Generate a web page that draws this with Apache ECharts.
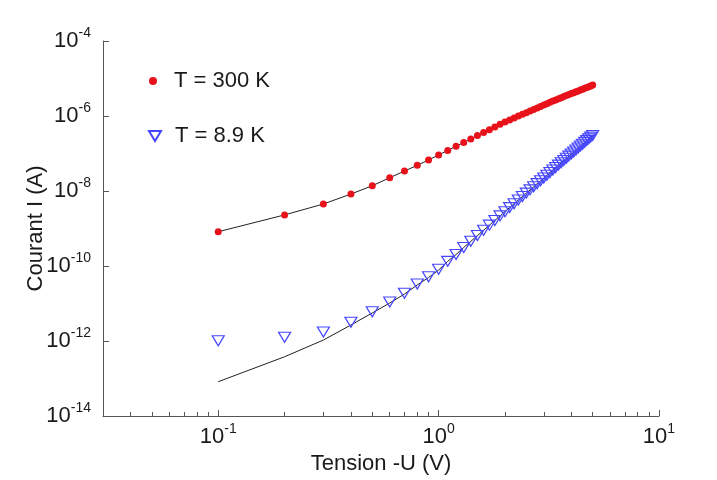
<!DOCTYPE html>
<html>
<head>
<meta charset="utf-8">
<script src="https://cdn.jsdelivr.net/npm/echarts@6/dist/echarts.min.js"></script>
<style>
  html, body { margin: 0; padding: 0; background: #fff; }
  #chart { width: 717px; height: 480px; }
</style>
</head>
<body>
<div id="chart"></div>
<script>
// Applied voltage -U (V)
const volt = [0.1, 0.2, 0.3, 0.4, 0.5, 0.6, 0.7, 0.8, 0.9, 1.0,
              1.1, 1.2, 1.3, 1.4, 1.5, 1.6, 1.7, 1.8, 1.9, 2.0,
              2.1, 2.2, 2.3, 2.4, 2.5, 2.6, 2.7, 2.8, 2.9, 3.0,
              3.1, 3.2, 3.3, 3.4, 3.5, 3.6, 3.7, 3.8, 3.9, 4.0,
              4.1, 4.2, 4.3, 4.4, 4.5, 4.6, 4.7, 4.8, 4.9, 5.0];

// Measured current at T = 300 K (A)
const i300 = [8.2e-10, 2.3e-9, 4.5e-9, 8.3e-9, 1.38e-8, 2.26e-8, 3.41e-8, 4.84e-8, 6.71e-8, 9.12e-8,
              1.21e-7, 1.56e-7, 1.96e-7, 2.45e-7, 3.0e-7, 3.63e-7, 4.31e-7, 5.12e-7, 6.01e-7, 6.97e-7,
              7.87e-7, 8.9e-7, 9.93e-7, 1.11e-6, 1.23e-6, 1.36e-6, 1.50e-6, 1.64e-6, 1.80e-6, 1.96e-6,
              2.13e-6, 2.32e-6, 2.51e-6, 2.69e-6, 2.89e-6, 3.08e-6, 3.29e-6, 3.50e-6, 3.72e-6, 3.96e-6,
              4.18e-6, 4.42e-6, 4.67e-6, 4.93e-6, 5.19e-6, 5.48e-6, 5.75e-6, 6.04e-6, 6.35e-6, 6.75e-6];

// Model curve at T = 300 K (A)
const fit300 = [8.2e-10, 2.3e-9, 4.5e-9, 8.3e-9, 1.38e-8, 2.26e-8, 3.41e-8, 4.84e-8, 6.71e-8, 9.12e-8,
              1.21e-7, 1.56e-7, 1.96e-7, 2.45e-7, 3.0e-7, 3.63e-7, 4.31e-7, 5.12e-7, 6.01e-7, 6.97e-7,
              7.87e-7, 8.9e-7, 9.93e-7, 1.11e-6, 1.23e-6, 1.36e-6, 1.50e-6, 1.64e-6, 1.80e-6, 1.96e-6,
              2.13e-6, 2.32e-6, 2.51e-6, 2.69e-6, 2.89e-6, 3.08e-6, 3.29e-6, 3.50e-6, 3.72e-6, 3.96e-6,
              4.18e-6, 4.42e-6, 4.67e-6, 4.93e-6, 5.19e-6, 5.48e-6, 5.75e-6, 6.04e-6, 6.35e-6, 6.75e-6];

// Measured current at T = 8.9 K (A)
const i89 = [1.02e-12, 1.26e-12, 1.74e-12, 3.15e-12, 6.04e-12, 1.10e-11, 1.87e-11, 3.31e-11, 5.19e-11, 8.17e-11,
             1.33e-10, 2.03e-10, 3.12e-10, 4.55e-10, 6.48e-10, 9.0e-10, 1.23e-9, 1.64e-9, 2.17e-9, 2.81e-9,
             3.61e-9, 4.58e-9, 5.74e-9, 7.14e-9, 8.79e-9, 1.07e-8, 1.30e-8, 1.57e-8, 1.88e-8, 2.23e-8,
             2.64e-8, 3.10e-8, 3.63e-8, 4.23e-8, 4.91e-8, 5.66e-8, 6.52e-8, 7.46e-8, 8.53e-8, 9.70e-8,
             1.10e-7, 1.24e-7, 1.40e-7, 1.58e-7, 1.77e-7, 1.98e-7, 2.21e-7, 2.46e-7, 2.73e-7, 3.03e-7];

// Model curve at T = 8.9 K (A)
const fit89 = [8.2e-14, 3.8e-13, 1.06e-12, 2.67e-12, 5.6e-12, 1.03e-11, 1.79e-11, 3.11e-11, 4.93e-11, 7.8e-11,
               1.33e-10, 2.03e-10, 3.12e-10, 4.55e-10, 6.48e-10, 9.0e-10, 1.23e-9, 1.64e-9, 2.17e-9, 2.81e-9,
               3.61e-9, 4.58e-9, 5.74e-9, 7.14e-9, 8.79e-9, 1.07e-8, 1.30e-8, 1.57e-8, 1.88e-8, 2.23e-8,
               2.64e-8, 3.10e-8, 3.63e-8, 4.23e-8, 4.91e-8, 5.66e-8, 6.52e-8, 7.46e-8, 8.53e-8, 9.70e-8,
               1.10e-7, 1.24e-7, 1.40e-7, 1.58e-7, 1.77e-7, 1.98e-7, 2.21e-7, 2.46e-7, 2.73e-7, 3.03e-7];

// Axis ticks
const xMajorTicks = [0.1, 1, 10];
const xMinorTicks = [0.04, 0.05, 0.06, 0.07, 0.08, 0.09,
                     0.2, 0.3, 0.4, 0.5, 0.6, 0.7, 0.8, 0.9,
                     2, 3, 4, 5, 6, 7, 8, 9];
const yTicks = [1e-14, 1e-12, 1e-10, 1e-8, 1e-6, 1e-4];

const seriesNames = ['T = 300 K', 'T = 8.9 K'];

const FONT = '"Liberation Sans", Arial, sans-serif';
const TEXT = '#1a1a1a';
const AXIS = '#555555';
const RED = '#e8121a';
const BLUE = '#4646ff';

// Downward-pointing triangle outline used for the 8.9 K markers
const DOWN_TRIANGLE = 'path://M0,0 L12,0 L6,10 Z';

const zip = (xs, ys) => xs.map((x, k) => [x, ys[k]]);

const powLabel = v => '{b|10}{e|' + Math.round(Math.log10(v)) + '}';
const powRich = {
  b: { fontSize: 22, lineHeight: 30, color: TEXT, fontFamily: FONT },
  e: { fontSize: 14, verticalAlign: 'top', color: TEXT, fontFamily: FONT }
};

const gridBox = { left: 103, right: 58, top: 41, bottom: 64 };

const chart = echarts.init(document.getElementById('chart'), null, { renderer: 'canvas' });

chart.setOption({
  animation: false,
  backgroundColor: '#ffffff',
  textStyle: { fontFamily: FONT, color: TEXT },
  grid: [
    Object.assign({ containLabel: false }, gridBox),
    Object.assign({ containLabel: false }, gridBox)
  ],
  legend: [
    {
      data: [{ name: seriesNames[0], icon: 'circle' }],
      left: 144, top: 65, itemWidth: 8, itemHeight: 8,
      textStyle: { fontSize: 22, color: TEXT, fontFamily: FONT, padding: [0, 0, 0, 12] },
      selectedMode: false
    },
    {
      data: [{ name: seriesNames[1], icon: DOWN_TRIANGLE }],
      left: 143, top: 120, itemWidth: 12, itemHeight: 10,
      textStyle: { fontSize: 22, color: TEXT, fontFamily: FONT, padding: [0, 0, 0, 9] },
      selectedMode: false
    }
  ],
  xAxis: [
    {
      type: 'log', logBase: 10, gridIndex: 0, min: 0.03, max: 10,
      position: 'bottom',
      name: 'Tension -U (V)', nameLocation: 'middle', nameGap: 34,
      nameTextStyle: { fontSize: 22, color: TEXT, fontFamily: FONT },
      axisLine: { show: true, onZero: false, lineStyle: { color: AXIS, width: 1 } },
      axisTick: { show: true, inside: true, length: 6, customValues: xMajorTicks, lineStyle: { color: AXIS } },
      axisLabel: { customValues: xMajorTicks, margin: 6, formatter: powLabel, rich: powRich },
      splitLine: { show: false }, minorTick: { show: false }
    },
    {
      type: 'log', logBase: 10, gridIndex: 1, min: 0.03, max: 10,
      position: 'bottom',
      axisLine: { show: false },
      axisTick: { show: true, inside: true, length: 4, customValues: xMinorTicks, lineStyle: { color: AXIS } },
      axisLabel: { show: false },
      splitLine: { show: false }
    }
  ],
  yAxis: [
    {
      type: 'log', logBase: 10, gridIndex: 0, min: 1e-14, max: 1e-4,
      name: 'Courant I (A)', nameLocation: 'middle', nameGap: 56, nameMoveOverlap: false,
      nameTextStyle: { fontSize: 22, color: TEXT, fontFamily: FONT },
      axisLine: { show: true, onZero: false, lineStyle: { color: AXIS, width: 1 } },
      axisTick: { show: true, inside: true, length: 6, customValues: yTicks, lineStyle: { color: AXIS } },
      axisLabel: { customValues: yTicks, margin: 12, formatter: powLabel, rich: powRich },
      splitLine: { show: false }
    },
    {
      type: 'log', logBase: 10, gridIndex: 1, min: 1e-14, max: 1e-4, show: false
    }
  ],
  series: [
    {
      name: 'fit300', type: 'line', xAxisIndex: 0, yAxisIndex: 0,
      data: zip(volt, fit300), showSymbol: false, symbol: 'none',
      lineStyle: { color: '#222', width: 1 }, z: 2, silent: true
    },
    {
      name: 'fit89', type: 'line', xAxisIndex: 0, yAxisIndex: 0,
      data: zip(volt, fit89), showSymbol: false, symbol: 'none',
      lineStyle: { color: '#222', width: 1 }, z: 2, silent: true
    },
    {
      name: seriesNames[0], type: 'scatter', xAxisIndex: 0, yAxisIndex: 0,
      data: zip(volt, i300), symbol: 'circle', symbolSize: 7,
      itemStyle: { color: RED, opacity: 1 }, z: 3
    },
    {
      name: seriesNames[1], type: 'scatter', xAxisIndex: 0, yAxisIndex: 0,
      data: zip(volt, i89), symbol: DOWN_TRIANGLE, symbolSize: [12, 10],
      itemStyle: { color: 'rgba(255,255,255,0)', borderColor: BLUE, borderWidth: 1.2, opacity: 1 }, z: 3
    }
  ]
});
</script>
</body>
</html>
